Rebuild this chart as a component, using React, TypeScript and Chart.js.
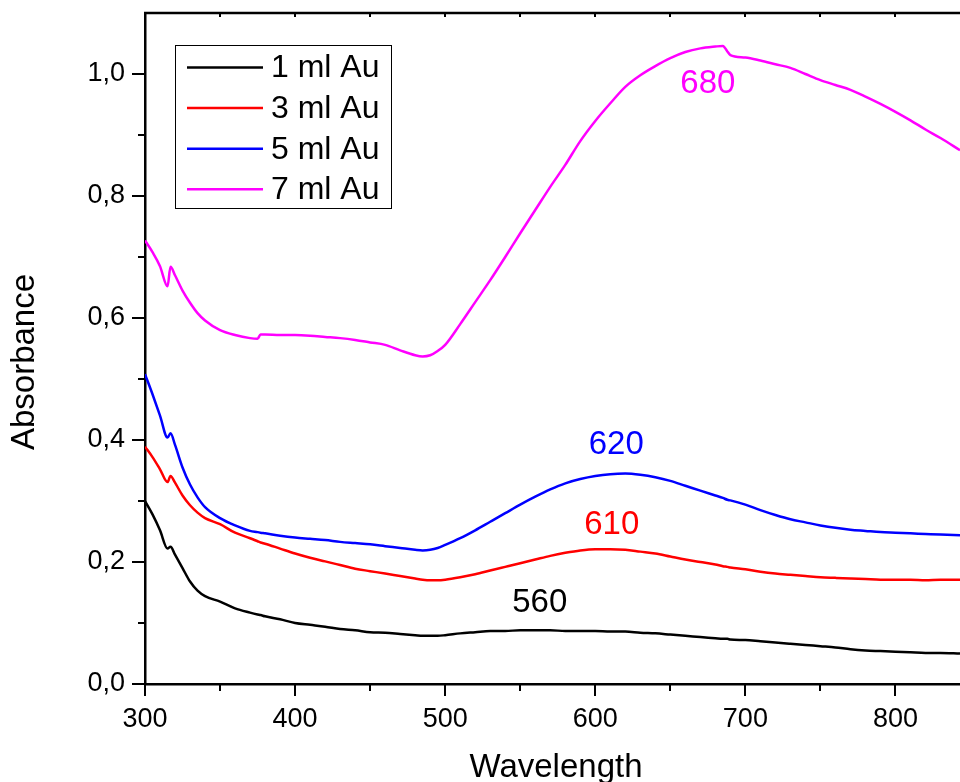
import React, { useEffect, useRef } from "react";
import { Chart, registerables } from "chart.js";

Chart.register(...registerables);

const wavelengths = [300, 305, 310, 315, 317, 320, 325, 330, 335, 340, 350, 360, 370, 375, 377, 380, 390, 400, 410, 420, 430, 440, 450, 460, 470, 480, 485, 490, 495, 500, 510, 520, 530, 540, 550, 560, 570, 580, 590, 600, 610, 620, 630, 640, 650, 660, 670, 680, 685, 688, 690, 700, 710, 720, 730, 740, 750, 760, 770, 780, 790, 800, 810, 820, 830, 843];

const au1 = [0.300, 0.278, 0.252, 0.222, 0.225, 0.212, 0.190, 0.168, 0.153, 0.144, 0.135, 0.124, 0.117, 0.114, 0.113, 0.111, 0.106, 0.100, 0.097, 0.094, 0.090, 0.088, 0.085, 0.084, 0.082, 0.080, 0.079, 0.079, 0.079, 0.080, 0.083, 0.085, 0.087, 0.087, 0.088, 0.088, 0.088, 0.087, 0.087, 0.087, 0.086, 0.086, 0.084, 0.083, 0.081, 0.079, 0.077, 0.075, 0.074, 0.074, 0.073, 0.072, 0.070, 0.068, 0.066, 0.064, 0.062, 0.060, 0.057, 0.055, 0.054, 0.053, 0.052, 0.051, 0.051, 0.050];

const au3 = [0.389, 0.372, 0.352, 0.331, 0.341, 0.330, 0.309, 0.293, 0.281, 0.272, 0.262, 0.248, 0.239, 0.234, 0.232, 0.230, 0.222, 0.214, 0.207, 0.201, 0.195, 0.189, 0.185, 0.181, 0.177, 0.173, 0.171, 0.170, 0.170, 0.171, 0.175, 0.180, 0.186, 0.192, 0.198, 0.204, 0.210, 0.215, 0.219, 0.221, 0.221, 0.220, 0.217, 0.214, 0.209, 0.204, 0.200, 0.196, 0.193, 0.192, 0.191, 0.188, 0.184, 0.181, 0.179, 0.177, 0.175, 0.174, 0.173, 0.172, 0.171, 0.171, 0.171, 0.170, 0.171, 0.171];

const au5 = [0.508, 0.475, 0.440, 0.404, 0.411, 0.392, 0.355, 0.327, 0.306, 0.290, 0.272, 0.260, 0.251, 0.249, 0.248, 0.247, 0.243, 0.240, 0.238, 0.236, 0.233, 0.231, 0.229, 0.226, 0.223, 0.220, 0.219, 0.220, 0.223, 0.228, 0.239, 0.252, 0.266, 0.280, 0.294, 0.307, 0.319, 0.329, 0.336, 0.341, 0.344, 0.345, 0.343, 0.339, 0.333, 0.325, 0.317, 0.309, 0.305, 0.302, 0.301, 0.294, 0.285, 0.277, 0.270, 0.265, 0.260, 0.256, 0.253, 0.251, 0.249, 0.248, 0.247, 0.246, 0.245, 0.244];

const au7 = [0.727, 0.708, 0.685, 0.652, 0.684, 0.670, 0.645, 0.625, 0.608, 0.596, 0.580, 0.572, 0.567, 0.566, 0.573, 0.573, 0.572, 0.572, 0.571, 0.569, 0.567, 0.564, 0.560, 0.556, 0.547, 0.539, 0.537, 0.539, 0.546, 0.556, 0.590, 0.626, 0.662, 0.700, 0.739, 0.777, 0.815, 0.851, 0.890, 0.923, 0.952, 0.979, 0.998, 1.013, 1.026, 1.036, 1.042, 1.045, 1.046, 1.037, 1.031, 1.027, 1.022, 1.016, 1.010, 1.000, 0.990, 0.982, 0.974, 0.963, 0.951, 0.938, 0.924, 0.909, 0.895, 0.875];

const seriesLabels = ["1 ml Au", "3 ml Au", "5 ml Au", "7 ml Au"];
const seriesColors = ["#000000", "#ff0000", "#0000ff", "#ff00ff"];
const seriesValues = [au1, au3, au5, au7];

const peakLabels = ["560", "610", "620", "680"];
const peakX = [563, 611, 614, 675];
const peakY = [0.133, 0.261, 0.392, 0.984];

const xMin = 300;
const xMax = 843;
const yMin = 0;
const yMax = 1.1;
const xStep = 100;
const yStep = 0.2;

const FONT = "'Liberation Sans', Arial, Helvetica, sans-serif";

const decorPlugin = {
  id: "decor",
  afterDatasetsDraw(chart: any) {
    const { ctx, chartArea } = chart;
    const x = chart.scales.x;
    const y = chart.scales.y;
    const seg = (x1: number, y1: number, x2: number, y2: number) => {
      ctx.beginPath();
      ctx.moveTo(x1, y1);
      ctx.lineTo(x2, y2);
      ctx.stroke();
    };
    ctx.save();
    ctx.strokeStyle = "#000";
    ctx.lineWidth = 2;
    // bottom and top ticks
    for (let i = 0; xMin + i * 50 <= xMax; i++) {
      const v = xMin + i * 50;
      const px = Math.round(x.getPixelForValue(v));
      const major = i % 2 === 0;
      seg(px, chartArea.bottom, px, chartArea.bottom + (major ? 12 : 7));
      seg(px, chartArea.top, px, chartArea.top + 4);
    }
    // left ticks
    for (let i = 0; i * 0.1 <= 1.05; i++) {
      const v = i * 0.1;
      const py = Math.round(y.getPixelForValue(v));
      const major = i % 2 === 0;
      seg(chartArea.left, py, chartArea.left - (major ? 13 : 7), py);
    }
    // top axis line
    ctx.lineWidth = 2.5;
    seg(chartArea.left - 1, chartArea.top, chartArea.right, chartArea.top);

    // peak annotations
    ctx.font = `33px ${FONT}`;
    ctx.textAlign = "center";
    ctx.textBaseline = "middle";
    for (let i = 0; i < peakLabels.length; i++) {
      ctx.fillStyle = seriesColors[i];
      ctx.fillText(peakLabels[i], x.getPixelForValue(peakX[i]), y.getPixelForValue(peakY[i]));
    }

    // legend box
    const bx = 175.5, by = 45.5, bw = 216, bh = 163;
    ctx.fillStyle = "#fff";
    ctx.fillRect(bx, by, bw, bh);
    ctx.lineWidth = 1;
    ctx.strokeStyle = "#000";
    ctx.strokeRect(bx, by, bw, bh);
    ctx.font = `32px ${FONT}`;
    ctx.textAlign = "left";
    ctx.textBaseline = "middle";
    for (let i = 0; i < seriesLabels.length; i++) {
      const ry = 67.5 + i * 40.6;
      ctx.strokeStyle = seriesColors[i];
      ctx.lineWidth = 2.5;
      seg(187, ry, 263, ry);
      ctx.fillStyle = "#000";
      ctx.fillText(seriesLabels[i], 271, ry + 1);
    }

    // axis titles
    ctx.fillStyle = "#000";
    ctx.font = `33px ${FONT}`;
    ctx.textAlign = "center";
    ctx.textBaseline = "alphabetic";
    ctx.fillText("Wavelength", 556, 777);
    ctx.save();
    ctx.translate(34, 362);
    ctx.rotate(-Math.PI / 2);
    ctx.fillText("Absorbance", 0, 0);
    ctx.restore();
    ctx.restore();
  },
};

export default function App() {
  const ref = useRef<HTMLCanvasElement>(null);
  useEffect(() => {
    if (!ref.current) return;
    const chart = new Chart(ref.current, {
      type: "line",
      data: {
        datasets: seriesLabels.map((label, i) => ({
          label,
          data: wavelengths.map((w, j) => ({ x: w, y: seriesValues[i][j] })),
          borderColor: seriesColors[i],
          backgroundColor: seriesColors[i],
          borderWidth: 2.5,
          pointRadius: 0,
          tension: 0,
          cubicInterpolationMode: "monotone" as const,
          fill: false,
        })),
      },
      options: {
        responsive: false,
        animation: false,
        devicePixelRatio: 1,
        layout: { padding: { top: 13, right: 0, left: 0, bottom: 0 } },
        plugins: {
          legend: { display: false },
          tooltip: { enabled: false },
          title: { display: false },
        },
        scales: {
          x: {
            type: "linear",
            position: "bottom",
            min: xMin,
            max: xMax,
            grid: { display: false, drawTicks: false },
            border: { display: true, color: "#000", width: 2.5 },
            ticks: {
              stepSize: xStep,
              includeBounds: false,
              autoSkip: false,
              maxRotation: 0,
              padding: 19,
              color: "#000",
              font: { family: FONT, size: 27 },
              callback: (v: any) => String(v),
            },
            afterFit: (s: any) => {
              s.height = 98;
              s.paddingLeft = 0;
              s.paddingRight = 0;
            },
          },
          y: {
            type: "linear",
            min: yMin,
            max: yMax,
            grid: { display: false, drawTicks: false },
            border: { display: true, color: "#000", width: 2.5 },
            ticks: {
              stepSize: yStep,
              includeBounds: false,
              padding: 20,
              color: "#000",
              font: { family: FONT, size: 27 },
              callback: (v: any) => Number(v).toFixed(1).replace(".", ","),
            },
            afterFit: (s: any) => {
              s.width = 145;
              s.paddingTop = 0;
              s.paddingBottom = 0;
            },
          },
        },
      },
      plugins: [decorPlugin],
    });
    return () => chart.destroy();
  }, []);
  return (
    <div style={{ position: "absolute", left: 0, top: 0, width: 960, height: 782, background: "#fff" }}>
      <canvas ref={ref} width={960} height={782} style={{ display: "block" }} />
    </div>
  );
}
